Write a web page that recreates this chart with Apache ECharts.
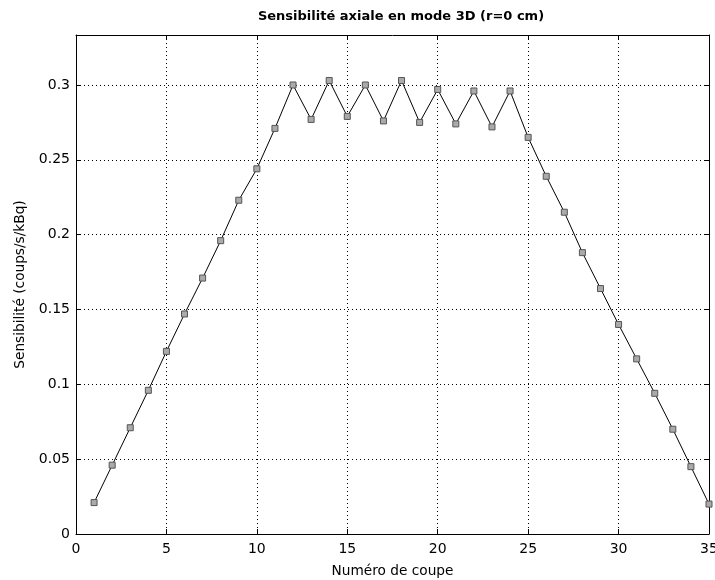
<!DOCTYPE html>
<html>
<head>
<meta charset="utf-8">
<script src="https://cdn.jsdelivr.net/npm/echarts@6/dist/echarts.min.js"></script>
<style>
  html, body { margin: 0; padding: 0; background: #fff; }
  #chart { width: 715px; height: 580px; }
</style>
</head>
<body>
<div id="chart"></div>
<script>
// numéro de coupe 1..35
const coupes = [1, 2, 3, 4, 5, 6, 7, 8, 9, 10, 11, 12, 13, 14, 15, 16, 17, 18,
  19, 20, 21, 22, 23, 24, 25, 26, 27, 28, 29, 30, 31, 32, 33, 34, 35];
const sensibilite = [0.021, 0.046, 0.071, 0.096, 0.122, 0.147, 0.171, 0.196, 0.223,
  0.244, 0.271, 0.300, 0.277, 0.303, 0.279, 0.300, 0.276, 0.303, 0.275, 0.297,
  0.274, 0.296, 0.272, 0.296, 0.265, 0.239, 0.215, 0.188, 0.164, 0.140, 0.117,
  0.094, 0.070, 0.045, 0.020];
const xTicks = [0, 5, 10, 15, 20, 25, 30, 35];
const yTicks = [0, 0.05, 0.1, 0.15, 0.2, 0.25, 0.3];
const yMax = 0.3334;

const font = 'DejaVu Sans, Verdana, sans-serif';
let chart = echarts.init(document.getElementById('chart'));

function isTick(list, v) {
  return list.some(t => Math.abs(t - v) < 1e-6);
}

const axisLine = { show: true, onZero: false, lineStyle: { color: '#000', width: 1 } };
const tick = { show: true, inside: true, length: 5, lineStyle: { color: '#000' } };
const dotted = { show: true, lineStyle: { color: '#000', type: [1, 3], width: 1 } };

let option = {
  backgroundColor: '#fff',
  animation: false,
  title: {
    text: 'Sensibilité axiale en mode 3D (r=0 cm)',
    left: 396, top: 5, textAlign: 'center',
    textStyle: { fontFamily: font, fontSize: 13, fontWeight: 'bold', color: '#000' }
  },
  grid: { left: 76, right: 6, top: 35, bottom: 46, outerBoundsMode: 'none' },
  xAxis: [
    {
      type: 'value', min: 0, max: 35, interval: 5,
      name: 'Numéro de coupe', nameLocation: 'middle', nameGap: 30,
      nameTextStyle: { fontFamily: font, fontSize: 13.7, color: '#000' },
      axisLine: axisLine, axisTick: tick,
      axisLabel: { fontFamily: font, fontSize: 14, color: '#000', margin: 8,
        formatter: v => isTick(xTicks, v) ? String(v) : '' },
      splitLine: dotted
    },
    {
      type: 'value', min: 0, max: 35, interval: 5, position: 'top',
      axisLine: axisLine, axisTick: tick, axisLabel: { show: false }, splitLine: { show: false }
    }
  ],
  yAxis: [
    {
      type: 'value', min: 0, max: yMax, interval: 0.05,
      name: 'Sensibilité (coups/s/kBq)', nameLocation: 'middle', nameGap: 49,
      nameTextStyle: { fontFamily: font, fontSize: 13.7, color: '#000' },
      axisLine: axisLine,
      axisTick: Object.assign({}, tick, { customValues: yTicks }),
      axisLabel: { fontFamily: font, fontSize: 14, color: '#000', margin: 6,
        formatter: v => isTick(yTicks, v) ? String(+v.toFixed(2)) : '' },
      splitLine: dotted
    },
    {
      type: 'value', min: 0, max: yMax, interval: 0.05, position: 'right',
      axisLine: axisLine,
      axisTick: Object.assign({}, tick, { customValues: yTicks }),
      axisLabel: { show: false }, splitLine: { show: false }
    }
  ],
  series: [
    {
      type: 'line',
      data: coupes.map((c, i) => [c, sensibilite[i]]),
      symbol: 'rect',
      symbolSize: 6,
      lineStyle: { color: '#000', width: 1 },
      itemStyle: { color: '#aaaaaa', borderColor: '#555', borderWidth: 1 },
      clip: false
    }
  ]
};
chart.setOption(option);
</script>
</body>
</html>
